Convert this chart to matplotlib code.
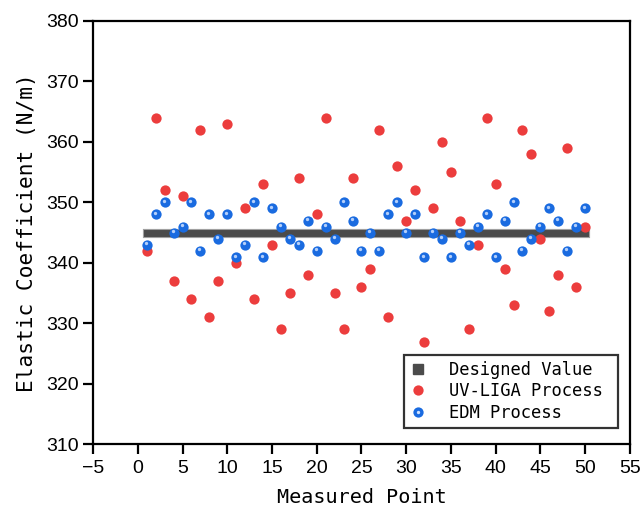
import matplotlib
matplotlib.use("Agg")
import matplotlib.pyplot as plt
import matplotlib.transforms as mtransforms
from matplotlib.lines import Line2D
from matplotlib.legend_handler import HandlerTuple

points = list(range(1, 51))
designed = [345] * 50
uv_liga = [342, 364, 352, 337, 351, 334, 362, 331, 337, 363,
           340, 349, 334, 353, 343, 329, 335, 354, 338, 348,
           364, 335, 329, 354, 336, 339, 362, 331, 356, 347,
           352, 327, 349, 360, 355, 347, 329, 343, 364, 353,
           339, 333, 362, 358, 344, 332, 338, 359, 336, 346]
edm = [343, 348, 350, 345, 346, 350, 342, 348, 344, 348,
       341, 343, 350, 341, 349, 346, 344, 343, 347, 342,
       346, 344, 350, 347, 342, 345, 342, 348, 350, 345,
       348, 341, 345, 344, 341, 345, 343, 346, 348, 341,
       347, 350, 342, 344, 346, 349, 347, 342, 346, 349]

xticks = list(range(-5, 56, 5))
yticks = list(range(310, 381, 10))

RED = '#ec3d3d'
BLUE = '#1a6be0'
GREY = '#4b4b4b'

fig = plt.figure(figsize=(6.42, 5.09), dpi=100)
ax = fig.add_axes([0.145, 0.127, 0.836, 0.832])

# designed value bar
ax.plot(points, designed, color='#a0a0a0', lw=6.6, solid_capstyle='projecting', zorder=2)
ax.plot(points, designed, color=GREY, lw=5.0, solid_capstyle='projecting', zorder=2.1)

ax.plot(points, uv_liga, 'o', color=RED, ms=7.4, mec='none', zorder=3)
ax.plot(points, edm, 'o', color=BLUE, ms=7.4, mec='none', zorder=4)
hl = mtransforms.offset_copy(ax.transData, fig=fig, x=-1.0, y=1.3, units='dots')
ax.plot(points, edm, 'o', color='#d0e2ff', ms=2.4, mec='none', alpha=0.85,
        transform=hl, zorder=5)

ax.set_xlim(-5, 55)
ax.set_ylim(310, 380)
ax.set_xticks(xticks)
ax.set_yticks(yticks)
ax.tick_params(direction='out', length=7.5, width=1.6, labelsize=14,
               labelfontfamily='Liberation Sans', top=False, right=False)
ax.tick_params(axis='x', pad=4)
ax.tick_params(axis='y', pad=3)
for sp in ax.spines.values():
    sp.set_linewidth(1.6)

ax.set_xlabel('Measured Point', family='DejaVu Sans Mono', fontsize=14.5, labelpad=8)
ax.set_ylabel('Elastic Coefficient (N/m)', family='DejaVu Sans Mono', fontsize=15.2, labelpad=6)

h1 = Line2D([], [], ls='none', marker='s', color=GREY, ms=7)
h2 = Line2D([], [], ls='none', marker='o', color=RED, ms=7.4, mec='none')
h3a = Line2D([], [], ls='none', marker='o', color=BLUE, ms=7.4, mec='none')
h3b = Line2D([], [], ls='none', marker='o', color='#d0e2ff', ms=2.4, mec='none')
leg = ax.legend([h1, h2, (h3a, h3b)], ['Designed Value', 'UV-LIGA Process', 'EDM Process'],
                handler_map={tuple: HandlerTuple(ndivide=1, pad=0)},
                loc='lower left', bbox_to_anchor=(0.579, 0.039, 0.399, 0.16),
                mode='expand',
                prop={'family': 'DejaVu Sans Mono', 'size': 12.3},
                frameon=True, fancybox=False, edgecolor='black',
                handlelength=1.0, handletextpad=1.3, labelspacing=0.2,
                borderpad=0.35, borderaxespad=0)
leg.get_frame().set_linewidth(1.6)

fig.savefig('out.png', dpi=100)
